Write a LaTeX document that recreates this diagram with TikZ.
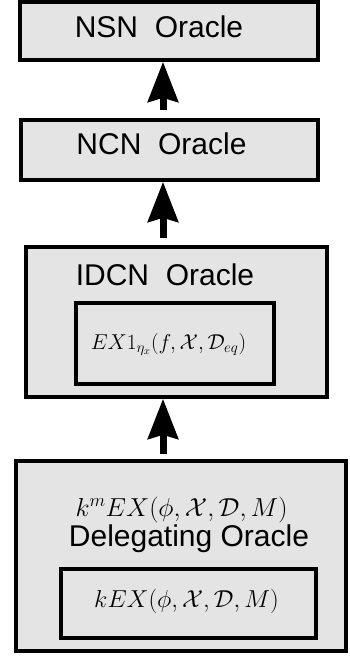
\RequirePackage{fix-cm}
\documentclass[tikz,border=0pt]{standalone}
\usepackage[no-math]{fontspec}
\setmainfont{Liberation Sans}
\usetikzlibrary{arrows.meta}
\definecolor{boxgray}{RGB}{228,228,228}
\tikzset{
  box/.style={draw=black, fill=boxgray, line width=3.6pt, inner sep=0pt},
  lbl/.style={anchor=base, inner sep=0pt, font=\fontsize{30}{36}\selectfont},
  mlbl/.style={anchor=base, inner sep=0pt},
  arr/.style={line width=7pt, -{Stealth[length=40pt,width=30pt,inset=4pt]}}
}
\begin{document}
\begin{tikzpicture}[x=1pt,y=-1pt]
\useasboundingbox (0,0) rectangle (349,659);
% boxes (line centres)
\node[box, minimum width=298pt, minimum height=58pt] (nsn) at (169,31) {};
\node[box, minimum width=297pt, minimum height=60pt] (ncn) at (169.5,150) {};
\node[box, minimum width=301pt, minimum height=150pt] (idcn) at (176.5,322) {};
\node[box, minimum width=198pt, minimum height=81pt] (ex1) at (175,343.5) {};
\node[box, minimum width=330pt, minimum height=190pt] (deleg) at (181,556) {};
\node[box, minimum width=255pt, minimum height=69pt] (kex) at (188.5,603.5) {};
% labels
\node[lbl] (tnsn) at (159,37) {NSN\ \ Oracle};
\node[lbl] (tncn) at (161.5,154) {NCN\ \ Oracle};
\node[lbl] (tidcn) at (165,285) {IDCN\ \ Oracle};
\node[mlbl, font=\fontsize{21.5}{26}\selectfont] (tex1) at (168.5,349) {$EX1_{\eta_x}(f,\mathcal{X},\mathcal{D}_{eq})$};
\node[mlbl, font=\fontsize{26}{31}\selectfont] (tkm) at (181.5,516) {$k^mEX(\phi,\mathcal{X},\mathcal{D},M)$};
\node[lbl] (tdel) at (189,546) {Delegating Oracle};
\node[mlbl, font=\fontsize{24.5}{29}\selectfont] (tkex) at (186.5,607) {$kEX(\phi,\mathcal{X},\mathcal{D},M)$};
% arrows
\coordinate (ax) at (163,0);
\draw[arr, shorten <=8pt] (ax |- ncn.north) -- (ax |- nsn.south);
\draw[arr, shorten <=7pt] (ax |- idcn.north) -- (ax |- ncn.south);
\draw[arr, shorten <=5pt] (ax |- deleg.north) -- (ax |- idcn.south);
\end{tikzpicture}
\end{document}
